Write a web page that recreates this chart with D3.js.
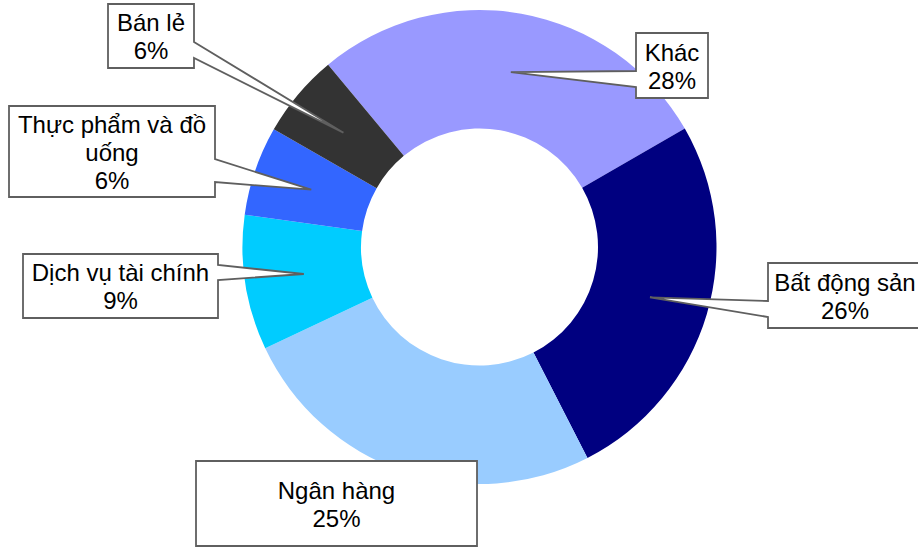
<!DOCTYPE html>
<html>
<head>
<meta charset="utf-8">
<script src="https://cdn.jsdelivr.net/npm/d3@7"></script>
<style>
  html, body { margin: 0; padding: 0; background: #ffffff; }
  svg { display: block; }
  text { font-family: "Liberation Sans", Arial, sans-serif; }
</style>
</head>
<body>
<svg id="chart" width="918" height="547"></svg>
<script>
// ---- data ----
const categories = ["Khác", "Bất động sản", "Ngân hàng", "Dịch vụ tài chính", "Thực phẩm và đồ uống", "Bán lẻ"];
const values = [27.7, 25.8, 25.5, 9.2, 6.1, 5.7];
const labelLines = [
  ["Khác", "28%"],
  ["Bất động sản", "26%"],
  ["Ngân hàng", "25%"],
  ["Dịch vụ tài chính", "9%"],
  ["Thực phẩm và đồ", "uống", "6%"],
  ["Bán lẻ", "6%"]
];
const colors = ["#9999FF", "#000080", "#99CCFF", "#00CCFF", "#3366FF", "#333333"];

// ---- layout (label boxes: x, y, w, h, pointer side, pointer base offsets) ----
const boxes = [
  { x: 636, y: 33,  w: 72,  h: 65, side: "left",  b1: 38, b2: 54 },
  { x: 768, y: 263, w: 154, h: 65, side: "left",  b1: 38, b2: 54 },
  { x: 196, y: 461, w: 281, h: 85, side: null },
  { x: 23,  y: 254, w: 195, h: 64, side: "right", b1: 11, b2: 26 },
  { x: 9,   y: 106, w: 206, h: 91, side: "right", b1: 53, b2: 76 },
  { x: 108, y: 4,   w: 86,  h: 64, side: "right", b1: 38, b2: 54 }
];

const cx = 479.5, cy = 247, rOuter = 237, rInner = 118.5;
const startDeg = -39.7;

const svg = d3.select("#chart");
const g = svg.append("g").attr("transform", `translate(${cx},${cy})`);

const pie = d3.pie().sort(null).value(d => d)
  .startAngle(startDeg * Math.PI / 180)
  .endAngle((startDeg + 360) * Math.PI / 180);
const arcs = pie(values);
const arc = d3.arc().innerRadius(rInner).outerRadius(rOuter);

g.selectAll("path.slice")
  .data(arcs)
  .join("path")
  .attr("class", "slice")
  .attr("d", arc)
  .attr("fill", (d, i) => colors[i]);

// ---- callout labels ----
const fontSize = 24, lineH = 28, off = 9;
const lab = svg.append("g");

arcs.forEach((d, i) => {
  const b = boxes[i];
  const c = arc.centroid(d);
  const tip = [cx + c[0], cy + c[1]];
  const x0 = b.x, y0 = b.y, x1 = b.x + b.w, y1 = b.y + b.h;
  const p = d3.path();
  p.moveTo(x0, y0);
  p.lineTo(x1, y0);
  if (b.side === "right") {
    p.lineTo(x1, y0 + b.b1);
    p.lineTo(tip[0], tip[1]);
    p.lineTo(x1, y0 + b.b2);
  }
  p.lineTo(x1, y1);
  p.lineTo(x0, y1);
  if (b.side === "left") {
    p.lineTo(x0, y0 + b.b2);
    p.lineTo(tip[0], tip[1]);
    p.lineTo(x0, y0 + b.b1);
  }
  p.closePath();
  lab.append("path")
    .attr("d", p.toString())
    .attr("fill", "#ffffff")
    .attr("stroke", "#5f5f5f")
    .attr("stroke-width", 1.8)
    .attr("stroke-linejoin", "miter")
    .attr("stroke-miterlimit", 2);

  const lines = labelLines[i];
  const bcx = b.x + b.w / 2, bcy = b.y + b.h / 2;
  const firstBase = bcy - (lines.length - 1) * lineH / 2 + off;
  const t = lab.append("text")
    .attr("text-anchor", "middle")
    .attr("font-size", fontSize)
    .attr("fill", "#000000");
  lines.forEach((s, j) => {
    t.append("tspan").attr("x", bcx).attr("y", firstBase + j * lineH).text(s);
  });
});
</script>
</body>
</html>
